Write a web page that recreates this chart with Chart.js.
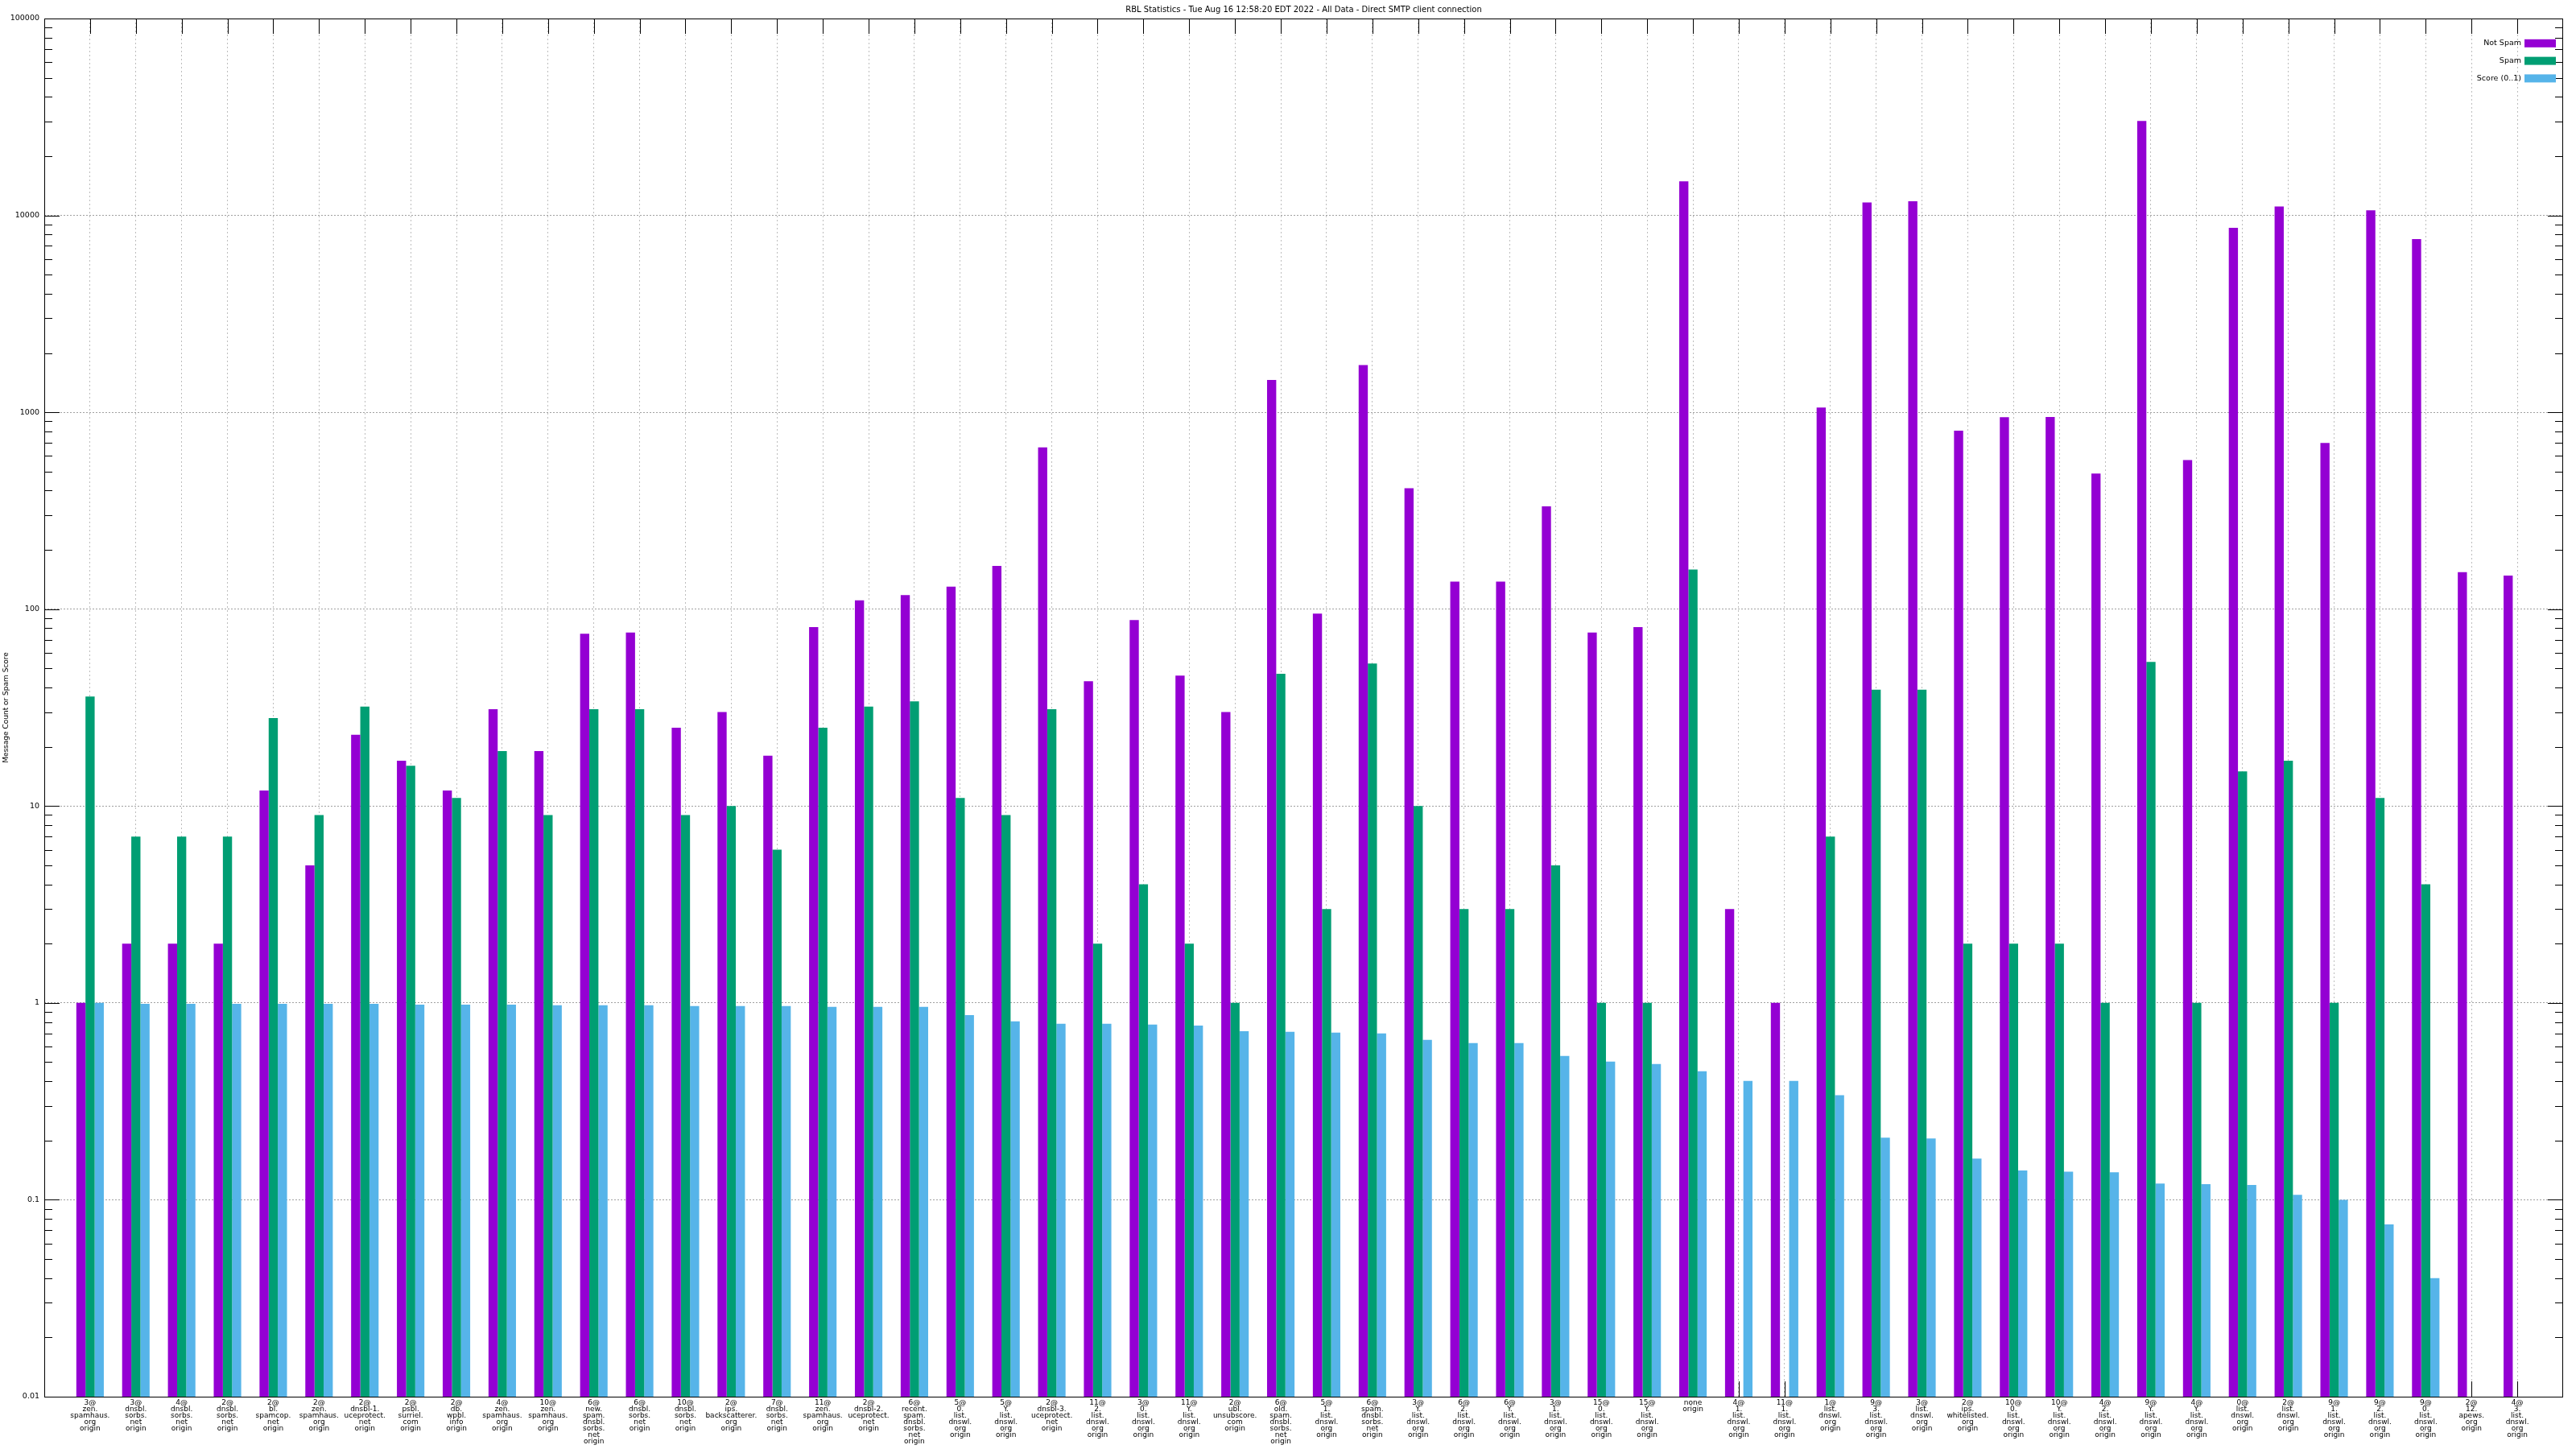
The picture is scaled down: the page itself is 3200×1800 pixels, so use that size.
<!DOCTYPE html>
<html><head><meta charset="utf-8">
<script src="https://cdn.jsdelivr.net/npm/chart.js@4/dist/chart.umd.min.js"></script>
<style>html,body{margin:0;padding:0;background:#fff;}</style>
</head><body>
<canvas id="c" width="3200" height="1800"></canvas>
<script>
const titleText = 'RBL Statistics - Tue Aug 16 12:58:20 EDT 2022 - All Data - Direct SMTP client connection';
const yAxisTitle = 'Message Count or Spam Score';
const categories = [
  '3@ zen. spamhaus. org origin','3@ dnsbl. sorbs. net origin','4@ dnsbl. sorbs. net origin','2@ dnsbl. sorbs. net origin',
  '2@ bl. spamcop. net origin','2@ zen. spamhaus. org origin','2@ dnsbl-1. uceprotect. net origin','2@ psbl. surriel. com origin',
  '2@ db. wpbl. info origin','4@ zen. spamhaus. org origin','10@ zen. spamhaus. org origin','6@ new. spam. dnsbl. sorbs. net origin',
  '6@ dnsbl. sorbs. net origin','10@ dnsbl. sorbs. net origin','2@ ips. backscatterer. org origin','7@ dnsbl. sorbs. net origin',
  '11@ zen. spamhaus. org origin','2@ dnsbl-2. uceprotect. net origin','6@ recent. spam. dnsbl. sorbs. net origin','5@ 0. list. dnswl. org origin',
  '5@ Y. list. dnswl. org origin','2@ dnsbl-3. uceprotect. net origin','11@ 2. list. dnswl. org origin','3@ 0. list. dnswl. org origin',
  '11@ Y. list. dnswl. org origin','2@ ubl. unsubscore. com origin','6@ old. spam. dnsbl. sorbs. net origin','5@ 1. list. dnswl. org origin',
  '6@ spam. dnsbl. sorbs. net origin','3@ Y. list. dnswl. org origin','6@ 2. list. dnswl. org origin','6@ Y. list. dnswl. org origin',
  '3@ 1. list. dnswl. org origin','15@ 0. list. dnswl. org origin','15@ Y. list. dnswl. org origin','none origin',
  '4@ 1. list. dnswl. org origin','11@ 1. list. dnswl. org origin','1@ list. dnswl. org origin','9@ 3. list. dnswl. org origin',
  '3@ list. dnswl. org origin','2@ ips. whitelisted. org origin','10@ 0. list. dnswl. org origin','10@ Y. list. dnswl. org origin',
  '4@ 2. list. dnswl. org origin','9@ Y. list. dnswl. org origin','4@ Y. list. dnswl. org origin','0@ list. dnswl. org origin',
  '2@ list. dnswl. org origin','9@ 1. list. dnswl. org origin','9@ 2. list. dnswl. org origin','9@ 0. list. dnswl. org origin',
  '2@ 12. apews. org origin','4@ 3. list. dnswl. org origin'
];
const notSpam = [1,2,2,2,12,5,23,17,12,31,19,75,76,25,30,18,81,111,118,130,166,663,43,88,46,30,1458,95,1736,411,138,138,333,76,81,14900,3,1,1058,11640,11800,807,945,947,488,30150,572,8650,11110,698,10610,7580,154,148];
const spam = [36,7,7,7,28,9,32,16,11,19,9,31,31,9,10,6,25,32,34,11,9,31,2,4,2,1,47,3,53,10,3,3,5,1,1,159,null,null,7,39,39,2,2,2,1,54,1,15,17,1,11,4,null,null];
const score = [1.0,0.99,0.99,0.99,0.99,0.99,0.99,0.981,0.981,0.981,0.972,0.972,0.972,0.963,0.963,0.963,0.954,0.954,0.954,0.868,0.806,0.783,0.783,0.776,0.768,0.719,0.713,0.707,0.700,0.649,0.625,0.625,0.538,0.504,0.490,0.450,0.402,0.402,0.340,0.207,0.205,0.162,0.141,0.139,0.138,0.121,0.120,0.119,0.106,0.100,0.075,0.040,null,null];
const seriesNames = ['Not Spam','Spam','Score (0..1)'];
const seriesColors = ['#9400D3','#009E73','#56B4E9'];
const yTickValues = [0.01,0.1,1,10,100,1000,10000,100000];
const yTickLabels = ['0.01','0.1','1','10','100','1000','10000','100000'];

const FAMILY = '"DejaVu Sans", sans-serif';

const decor = {
  id: 'decor',
  beforeDatasetsDraw(chart) {
    const {ctx, chartArea: a, scales: {x, y}} = chart;
    ctx.save();
    ctx.strokeStyle = '#000';
    ctx.lineWidth = 1;
    ctx.beginPath();
    x.ticks.forEach(t => {
      const px = Math.round(x.getPixelForValue(t.value)) + 0.5;
      ctx.moveTo(px, a.bottom); ctx.lineTo(px, a.bottom - 19);
      ctx.moveTo(px, a.top); ctx.lineTo(px, a.top + 19);
    });
    for (let e = -2; e <= 5; e++) {
      for (let m = 1; m <= 9; m++) {
        const v = m * Math.pow(10, e);
        if (v > y.max * 1.0001) break;
        const py = Math.round(y.getPixelForValue(v)) + 0.5;
        const len = m === 1 ? 19 : 10;
        ctx.moveTo(a.left, py); ctx.lineTo(a.left + len, py);
        ctx.moveTo(a.right, py); ctx.lineTo(a.right - len, py);
      }
    }
    ctx.stroke();
    ctx.restore();
  },
  afterDraw(chart) {
    const {ctx, chartArea: a} = chart;
    ctx.save();
    ctx.strokeStyle = '#000';
    ctx.lineWidth = 1;
    ctx.strokeRect(Math.round(a.left) + 0.5, Math.round(a.top) + 0.5, Math.round(a.right - a.left) - 1, Math.round(a.bottom - a.top));
    ctx.fillStyle = '#000';
    ctx.font = '10px ' + FAMILY;
    ctx.textAlign = 'center';
    ctx.textBaseline = 'middle';
    ctx.fillText(titleText, (a.left + a.right) / 2, 12.7);
    ctx.font = '9.5px ' + FAMILY;
    chart.data.datasets.forEach((ds, i) => {
      const cy = a.top + 30.8 + i * 21.8;
      const bx = a.right - 9 - 39;
      ctx.fillStyle = ds.backgroundColor;
      ctx.fillRect(bx, cy - 5, 39, 10);
      ctx.fillStyle = '#000';
      ctx.textAlign = 'right';
      ctx.fillText(ds.label, bx - 4, cy);
    });
    ctx.restore();
  }
};

new Chart(document.getElementById('c'), {
  type: 'bar',
  data: {
    datasets: [notSpam, spam, score].map((arr, k) => ({
      label: seriesNames[k],
      data: arr.map((v, i) => ({x: i, y: v})),
      backgroundColor: seriesColors[k],
      borderWidth: 0,
      categoryPercentage: 0.6,
      barPercentage: 1.0
    }))
  },
  options: {
    responsive: false,
    devicePixelRatio: 1,
    animation: false,
    layout: {padding: {top: 23, right: 16, bottom: 0, left: 0}},
    plugins: {legend: {display: false}, title: {display: false}, tooltip: {enabled: false}},
    scales: {
      x: {
        type: 'linear', min: -1, max: categories.length, offset: false,
        afterBuildTicks: s => { s.ticks = categories.map((_, i) => ({value: i})); },
        ticks: {
          autoSkip: false, maxRotation: 0, minRotation: 0, padding: 4, color: '#000',
          font: {family: FAMILY, size: 9, lineHeight: '8px'},
          callback: v => (categories[v] !== undefined ? categories[v].split(' ') : '')
        },
        grid: {offset: false, drawTicks: false, color: '#bdbdbd', lineWidth: 1},
        border: {display: false, dash: [2, 3]},
        afterFit: s => { s.height = 65; }
      },
      y: {
        type: 'logarithmic', min: 0.01, max: 100000,
        afterBuildTicks: s => { s.ticks = yTickValues.map(v => ({value: v, major: true})); },
        ticks: {
          autoSkip: false, padding: 6, color: '#000',
          font: {family: FAMILY, size: 9.5},
          callback: v => { const i = yTickValues.indexOf(v); return i >= 0 ? yTickLabels[i] : ''; }
        },
        grid: {drawTicks: false, color: '#a0a0a0', lineWidth: 1},
        border: {display: false, dash: [2, 2]},
        title: {display: true, text: yAxisTitle, color: '#000', font: {family: FAMILY, size: 9}, padding: {top: 2, bottom: 0}},
        afterFit: s => { s.width = 55; }
      }
    }
  },
  plugins: [decor]
});
</script>
</body></html>
